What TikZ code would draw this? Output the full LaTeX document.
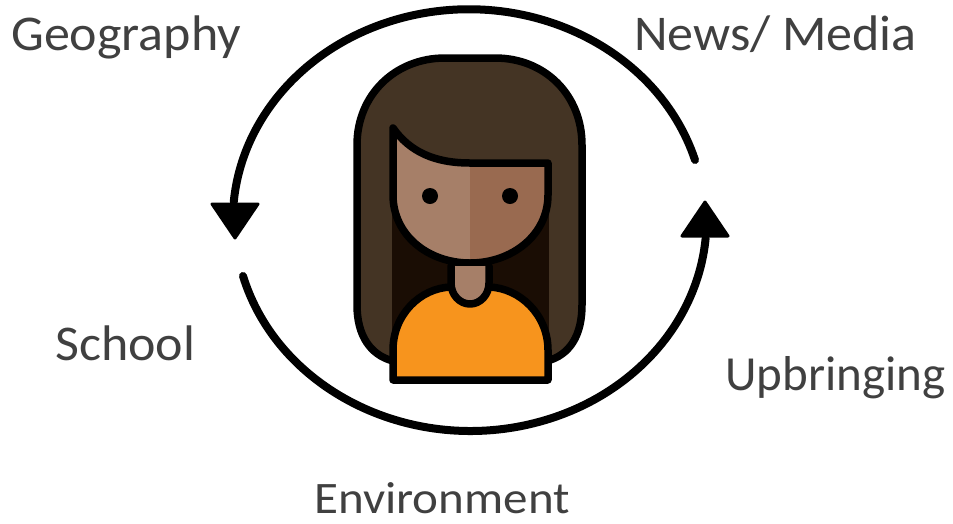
\documentclass[tikz,border=0pt]{standalone}
\usepackage{fontspec}
\setmainfont{Carlito}
\definecolor{labelgrey}{HTML}{404040}
\definecolor{hair}{HTML}{443424}
\definecolor{hairdark}{HTML}{1A0D04}
\definecolor{skinl}{HTML}{A67F68}
\definecolor{skind}{HTML}{996A50}
\definecolor{shirt}{HTML}{F7941D}
\tikzset{
  lab/.style={anchor=base west,inner sep=0pt,text=labelgrey,font=\fontsize{50}{52}\selectfont,xscale=1.04,transform shape},
  labs/.style={anchor=base west,inner sep=0pt,text=labelgrey,font=\fontsize{49}{51}\selectfont},
  labe/.style={anchor=base west,inner sep=0pt,text=labelgrey,font=\fontsize{45}{47}\selectfont,xscale=1.09,transform shape},
  ring/.style={line width=8pt,line cap=round},
  tip/.style={fill=black,draw=black,line width=3pt,line join=round},
  outl/.style={draw=black,line width=7.5pt,line join=round,line cap=round},
}
\begin{document}
\begin{tikzpicture}[x=1pt,y=-1pt]
\useasboundingbox (0,0) rectangle (953,523);
% labels
\node[lab] (geo) at (11,50) {Geography};
\node[lab] (news) at (634,50) {News/ Media};
\node[lab] (school) at (55,360) {School};
\node[labs] (up) at (725,390) {Upbringing};
\node[labe] (env) at (314,513) {Environment};
% ring
\coordinate (c1) at (695,160);
\coordinate (c3) at (243,276);
\draw[ring,yscale=-1] (695,-160) arc[start angle=16.6,end angle=175,x radius=236,y radius=211] coordinate (c2);
\draw[ring,yscale=-1] (243,-276) arc[start angle=195.4,end angle=355,x radius=236,y radius=211] coordinate (c4);
\fill[tip] (212,204) -- (258,204) -- (235,238) -- cycle;
\fill[tip] (682,236) -- (728,236) -- (705,202) -- cycle;
% hair
\path[fill=hair,outl] (393,361) .. controls (370,355) and (357,335) .. (357,305) -- (357,145)
  .. controls (357,95) and (395,58) .. (445,58) -- (495,58)
  .. controls (545,58) and (582,95) .. (582,145) -- (582,305)
  .. controls (582,335) and (570,355) .. (547,361) -- cycle;
\fill[hairdark] (392,195) rectangle (549,330);
% face
\path[fill=skinl] (393,130) .. controls (410,152) and (435,163) .. (470,163) -- (470,263)
  .. controls (428,263) and (393,235) .. (393,195) -- cycle;
\path[fill=skind] (470,163) -- (548,163) -- (548,195) .. controls (548,235) and (512,263) .. (470,263) -- cycle;
\path[outl] (393,128) .. controls (410,152) and (435,163) .. (470,163) -- (548,163) -- (548,195)
  .. controls (548,235) and (512,263) .. (470,263) .. controls (428,263) and (393,235) .. (393,195) -- cycle;
\fill (430,196) circle[radius=8];
\fill (510,196) circle[radius=8];
% shirt
\path[fill=shirt,outl] (393,380) -- (393,350) .. controls (393,315) and (420,288) .. (451,287)
  -- (489,287) .. controls (520,288) and (548,315) .. (548,350) -- (548,380) -- cycle;
% neck
\path[fill=skinl,outl] (451,266) -- (451,283) .. controls (451,295) and (460,304) .. (470,304)
  .. controls (480,304) and (489,295) .. (489,283) -- (489,266);
\end{tikzpicture}
\end{document}
